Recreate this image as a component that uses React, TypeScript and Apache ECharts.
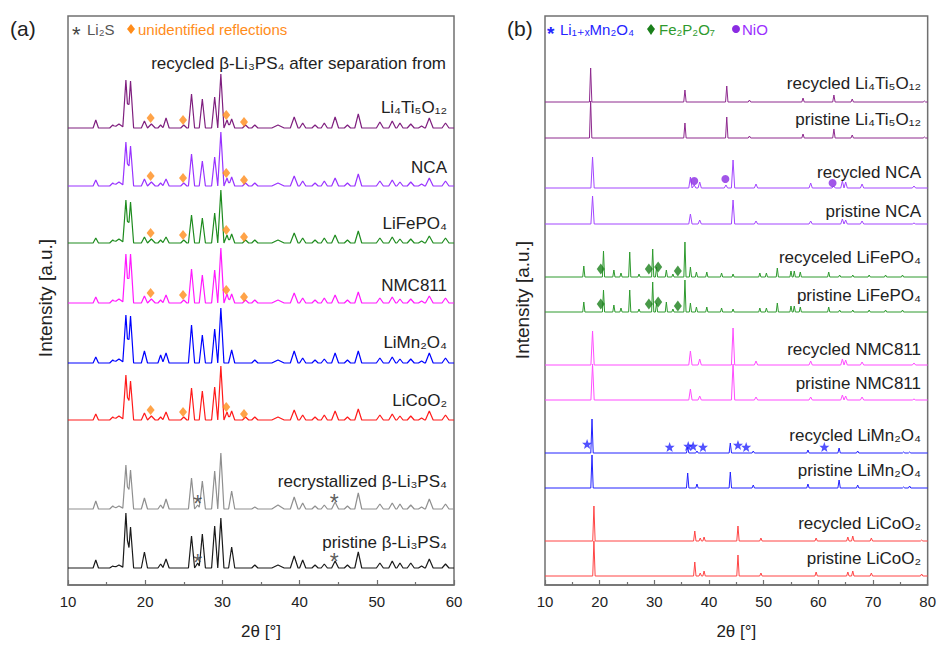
import React, { useEffect, useRef } from "react";
import * as echarts from "echarts";

const FONT = '"Liberation Sans", Arial, "DejaVu Sans", sans-serif';

// ---------- Panel (a): beta-Li3PS4 patterns (peak positions in 2theta, heights in a.u.) ----------
const lpsTheta = [13.6, 15.8, 16.6, 17.5, 18.1, 19.9, 20.8, 22.0, 22.7, 25.0, 26.0, 26.8, 27.4, 29.0, 29.8, 30.6, 31.2, 33.0, 34.2, 37.2, 39.3, 40.4, 42.0, 43.2, 44.6, 46.2, 47.6, 50.4, 52.0, 53.0, 54.4, 55.8, 56.8, 58.9];
const lpsWidth = [0.35, 0.4, 0.7, 0.4, 0.4, 0.4, 0.5, 0.35, 0.4, 0.4, 0.4, 0.35, 0.4, 0.4, 0.4, 0.35, 0.4, 0.4, 0.4, 0.8, 0.5, 0.4, 0.4, 0.4, 0.45, 0.4, 0.45, 0.45, 0.45, 0.4, 0.45, 0.4, 0.5, 0.45];
const hLTO = [8, 3, 4, 48, 47, 7, 4, 3, 10, 3, 34, 0, 29, 31, 54, 8, 9, 3, 3, 3, 11, 5, 3, 5, 11, 3, 14, 6, 7, 5, 4, 2, 10, 5];
const hNCA = [6, 3, 4, 44, 40, 7, 4, 3, 7, 3, 32, 0, 25, 29, 54, 8, 9, 3, 3, 3, 10, 5, 3, 5, 8, 3, 12, 5, 6, 4, 4, 2, 8, 5];
const hLFP = [5, 3, 4, 43, 41, 6, 4, 3, 6, 3, 28, 0, 25, 30, 53, 8, 9, 3, 3, 3, 10, 5, 3, 5, 8, 3, 12, 5, 6, 4, 4, 2, 7, 5];
const hNMC = [6, 3, 4, 49, 49, 7, 4, 3, 8, 3, 34, 0, 28, 33, 55, 9, 9, 3, 3, 3, 10, 5, 3, 5, 8, 3, 11, 5, 6, 4, 4, 2, 7, 5];
const hLMO = [6, 3, 4, 48, 47, 12, 0, 8, 10, 0, 38, 0, 28, 34, 55, 0, 13, 0, 3, 3, 12, 5, 3, 4, 10, 3, 12, 5, 6, 4, 4, 2, 10, 5];
const hLCO = [6, 3, 4, 45, 39, 7, 4, 3, 8, 3, 32, 0, 29, 33, 54, 8, 9, 3, 3, 3, 10, 5, 3, 5, 9, 3, 11, 5, 6, 4, 4, 2, 9, 5];
const hRecryst = [8, 3, 3, 44, 39, 11, 0, 4, 10, 0, 31, 4, 28, 38, 56, 0, 18, 0, 2, 4, 12, 6, 3, 4, 7, 3, 16, 5, 6, 5, 4, 2, 10, 5];
const hPristine = [8, 2, 3, 55, 41, 16, 0, 4, 9, 0, 32, 5, 34, 42, 50, 0, 21, 0, 3, 3, 12, 8, 3, 4, 7, 3, 16, 5, 7, 5, 5, 2, 9, 4];
const leftNames = ["Li₄Ti₅O₁₂", "NCA", "LiFePO₄", "NMC811", "LiMn₂O₄", "LiCoO₂", "recrystallized β-Li₃PS₄", "pristine β-Li₃PS₄"];
const leftHeights = [hLTO, hNCA, hLFP, hNMC, hLMO, hLCO, hRecryst, hPristine];
const leftOffsets = [457, 399, 342, 282, 222, 165, 76, 17];

const unidentifiedTheta = [20.7, 24.9, 30.5, 32.8];
const unidentifiedLift = [10, 8, 13, 6];
const li2sTheta = [26.8, 44.5];
const li2sLift = [11, 12];

// ---------- Panel (b): cathode patterns ----------
const ltoTheta = [18.35, 35.6, 43.25, 47.4, 57.2, 62.85, 66.2, 79.4];
const ltoRec = [34, 12, 16, 2, 4, 7, 3, 1];
const ltoPri = [37, 15, 21, 2, 4, 9, 3, 1];
const ncaTheta = [18.7, 36.6, 37.3, 38.3, 43.1, 44.4, 48.6, 58.6, 62.8, 64.4, 65.0, 68.0, 77.5];
const ncaRec = [31, 11, 3, 6, 3, 28, 4, 5, 2, 7, 6, 4, 2];
const ncaPri = [28, 10, 0, 4, 0, 24, 3, 3, 0, 5, 4, 3, 1];
const lfpTheta = [17.1, 20.7, 22.6, 23.9, 25.5, 27.2, 29.7, 30.4, 32.2, 33.4, 35.6, 36.6, 37.7, 39.6, 42.3, 44.4, 49.3, 50.5, 52.5, 55.0, 55.6, 56.7, 61.9, 63.9, 66.3, 69.3, 72.3, 75.4];
const lfpRec = [11, 26, 7, 4, 25, 3, 28, 10, 7, 3, 35, 10, 5, 5, 4, 3, 4, 4, 9, 6, 6, 5, 5, 2, 2, 2, 2, 2];
const lfpPri = [10, 22, 7, 4, 22, 3, 30, 9, 10, 3, 32, 9, 5, 5, 4, 3, 4, 4, 9, 6, 6, 5, 5, 2, 2, 2, 2, 2];
const nmcTheta = [18.7, 36.6, 38.3, 44.4, 48.6, 58.6, 64.4, 65.0, 68.0, 77.5];
const nmcRec = [34, 14, 6, 37, 4, 4, 6, 5, 3, 2];
const nmcPri = [36, 11, 4, 36, 3, 3, 5, 4, 3, 1];
const lmoTheta = [18.6, 36.1, 37.8, 43.9, 48.1, 58.1, 63.8, 67.2, 75.6, 76.7];
const lmoRec = [34, 6, 2, 10, 2, 3, 5, 2, 1, 1];
const lmoPri = [33, 15, 4, 16, 3, 4, 8, 3, 1, 2];
const lcoTheta = [18.95, 37.4, 38.4, 39.1, 45.3, 49.5, 59.6, 65.4, 66.3, 69.7, 78.9];
const lcoRec = [35, 10, 3, 4, 15, 3, 3, 4, 5, 3, 1];
const lcoPri = [35, 14, 3, 5, 21, 3, 4, 4, 5, 3, 2];

const rightNames = ["recycled Li₄Ti₅O₁₂", "pristine Li₄Ti₅O₁₂", "recycled NCA", "pristine NCA", "recyceled LiFePO₄", "pristine LiFePO₄", "recycled NMC811", "pristine NMC811", "recycled LiMn₂O₄", "pristine LiMn₂O₄", "recycled LiCoO₂", "pristine LiCoO₂"];
const rightThetas = [ltoTheta, ltoTheta, ncaTheta, ncaTheta, lfpTheta, lfpTheta, nmcTheta, nmcTheta, lmoTheta, lmoTheta, lcoTheta, lcoTheta];
const rightHeights = [ltoRec, ltoPri, ncaRec, ncaPri, lfpRec, lfpPri, nmcRec, nmcPri, lmoRec, lmoPri, lcoRec, lcoPri];
const rightOffsets = [483, 447, 397, 361, 308, 273, 220, 185, 132, 97, 44, 9];

const lmoStarTheta = [17.7, 32.8, 36.2, 37.1, 38.9, 45.3, 46.8, 61.1];
const lmoStarLift = [9, 6, 7, 7, 6, 8, 6, 6];
const fe2p2o7Theta = [20.2, 29.0, 30.7, 34.3];
const fe2p2o7Lift = [8, 8, 10, 6];
const nioTheta = [37.3, 43.0, 62.6];
const nioLift = [7, 9, 5];

// ---------- styles ----------
const leftColors = ["#7F1F7F", "#9933FF", "#1E8C1E", "#FF1AFF", "#0000FF", "#FF1A1A", "#8F8F8F", "#1A1A1A"];
const rightColors = ["#8E2A8E", "#8E2A8E", "#A347FF", "#A347FF", "#2E9A2E", "#2E9A2E", "#FF4DFF", "#FF4DFF", "#2222FF", "#2222FF", "#FF4444", "#FF4444"];
const rightWidths = [0.22, 0.22, 0.3, 0.3, 0.2, 0.2, 0.3, 0.3, 0.22, 0.22, 0.22, 0.22];
const leftLabelY = [107, 167, 223, 285, 342, 400, 481, 542];
const rightLabelY = [83, 119, 172, 211, 257, 295, 349, 383, 435, 470, 523, 558];

function pattern(theta: number[], heights: number[], widths: number[] | number, base: number, xMin: number, xMax: number) {
  const peaks = theta
    .map((t, i) => ({ t, h: heights[i], w: Array.isArray(widths) ? widths[i] : widths }))
    .filter((p) => p.h > 0);
  const xs = new Set<number>([xMin, xMax]);
  peaks.forEach((p) => {
    xs.add(+(p.t - p.w).toFixed(3));
    xs.add(p.t);
    xs.add(+(p.t + p.w).toFixed(3));
  });
  const sorted = Array.from(xs).filter((x) => x >= xMin && x <= xMax).sort((a, b) => a - b);
  return sorted.map((x) => [
    x,
    base + peaks.reduce((s, p) => s + Math.max(0, p.h * (1 - Math.abs(x - p.t) / p.w)), 0),
  ]);
}

function markerPoints(theta: number[], lift: number[], base: number) {
  return theta.map((t, i) => [t, base + lift[i]]);
}

function starSymbol() {
  const pts: string[] = [];
  for (let k = 0; k < 10; k++) {
    const r = k % 2 === 0 ? 10 : 4.2;
    const a = -Math.PI / 2 + (k * Math.PI) / 5;
    pts.push(`${(10 + r * Math.cos(a)).toFixed(2)} ${(10 + r * Math.sin(a)).toFixed(2)}`);
  }
  return "path://M" + pts.join(" L") + " Z";
}

export default function App() {
  const ref = useRef<HTMLDivElement>(null);
  useEffect(() => {
    if (!ref.current) return;
    const chart = echarts.init(ref.current, undefined, { renderer: "svg" });
    const axisColor = "#707070";
    const mkX = (grid: number, max: number) => ({
      gridIndex: grid,
      type: "value",
      min: 10,
      max,
      interval: 10,
      axisLine: { show: true, lineStyle: { color: axisColor, width: 1.5 } },
      axisTick: { show: true, inside: true, length: 5, lineStyle: { color: axisColor, width: 1.2 } },
      minorTick: { show: true, splitNumber: 2, length: 3, lineStyle: { color: axisColor, width: 1.2 } },
      axisLabel: { color: "#222", fontSize: 15, margin: 9, fontFamily: FONT },
      splitLine: { show: false },
      name: "2θ [°]",
      nameLocation: "middle",
      nameGap: 38,
      nameTextStyle: { color: "#222", fontSize: 17, fontFamily: FONT },
    });
    const mkY = (grid: number) => ({ gridIndex: grid, type: "value", min: 0, max: 569, show: false });

    const series: any[] = [];
    leftHeights.forEach((h, i) => {
      series.push({
        type: "line",
        name: leftNames[i],
        xAxisIndex: 0,
        yAxisIndex: 0,
        data: pattern(lpsTheta, h, lpsWidth, leftOffsets[i], 10, 60),
        symbol: "none",
        lineStyle: { color: leftColors[i], width: 1.2 },
        silent: true,
      });
    });
    rightHeights.forEach((h, i) => {
      series.push({
        type: "line",
        name: rightNames[i],
        xAxisIndex: 1,
        yAxisIndex: 1,
        data: pattern(rightThetas[i], h, rightWidths[i], rightOffsets[i], 10, 80),
        symbol: "none",
        lineStyle: { color: rightColors[i], width: 1 },
        silent: true,
      });
    });
    // unidentified reflections (orange diamonds)
    series.push({
      type: "scatter",
      xAxisIndex: 0,
      yAxisIndex: 0,
      data: [0, 1, 2, 3, 5].flatMap((i) => markerPoints(unidentifiedTheta, unidentifiedLift, leftOffsets[i])),
      symbol: "diamond",
      symbolSize: [8, 10],
      itemStyle: { color: "#FF8C1A" },
      z: 5,
      silent: true,
    });
    // Li2S asterisks
    series.push({
      type: "scatter",
      xAxisIndex: 0,
      yAxisIndex: 0,
      data: [6, 7].flatMap((i) => markerPoints(li2sTheta, li2sLift, leftOffsets[i])),
      symbol: "circle",
      symbolSize: 1,
      itemStyle: { color: "rgba(0,0,0,0)" },
      label: { show: true, position: "inside", formatter: "*", fontSize: 23, color: "#333", fontFamily: FONT, offset: [0, 6] },
      z: 5,
      silent: true,
    });
    // Li1+xMn2O4 stars
    series.push({
      type: "scatter",
      xAxisIndex: 1,
      yAxisIndex: 1,
      data: markerPoints(lmoStarTheta, lmoStarLift, rightOffsets[8]),
      symbol: starSymbol(),
      symbolSize: 10,
      itemStyle: { color: "#2626FF" },
      z: 5,
      silent: true,
    });
    // Fe2P2O7 diamonds
    series.push({
      type: "scatter",
      xAxisIndex: 1,
      yAxisIndex: 1,
      data: [4, 5].flatMap((i) => markerPoints(fe2p2o7Theta, fe2p2o7Lift, rightOffsets[i])),
      symbol: "diamond",
      symbolSize: [8, 11],
      itemStyle: { color: "#1A7F1A" },
      z: 5,
      silent: true,
    });
    // NiO dots
    series.push({
      type: "scatter",
      xAxisIndex: 1,
      yAxisIndex: 1,
      data: markerPoints(nioTheta, nioLift, rightOffsets[2]),
      symbol: "circle",
      symbolSize: 8,
      itemStyle: { color: "#8A2BE2" },
      z: 5,
      silent: true,
    });

    const txt = (text: string, x: number, y: number, opts: any = {}) => ({
      type: "text",
      x,
      y,
      rotation: opts.rotation || 0,
      z: 10,
      style: {
        text,
        fill: opts.fill || "#222",
        font: `${opts.weight || "normal"} ${opts.size || 17}px ${FONT}`,
        align: opts.align || "right",
        verticalAlign: "middle",
      },
    });

    const graphic: any[] = [
      txt("(a)", 10, 28, { align: "left", size: 21 }),
      txt("(b)", 507, 28, { align: "left", size: 21 }),
      txt("Intensity [a.u.]", 45, 298, { align: "center", size: 19, rotation: Math.PI / 2 }),
      txt("Intensity [a.u.]", 522, 300, { align: "center", size: 19, rotation: Math.PI / 2 }),
      // legend (a)
      txt("*", 72, 34, { align: "left", size: 22, fill: "#444" }),
      txt("Li₂S", 87, 29, { align: "left", size: 15, fill: "#555" }),
      { type: "polygon", z: 10, shape: { points: [[131, 24], [135, 29], [131, 34], [127, 29]] }, style: { fill: "#FF8C1A" } },
      txt("unidentified reflections", 138, 29, { align: "left", size: 15, fill: "#FF8C1A" }),
      // legend (b)
      txt("*", 547, 33, { align: "left", size: 19, weight: "bold", fill: "#2525FF" }),
      txt("Li₁₊ₓMn₂O₄", 560, 29, { align: "left", size: 15, fill: "#2525FF" }),
      { type: "polygon", z: 10, shape: { points: [[651, 24], [655, 29], [651, 35], [647, 29]] }, style: { fill: "#1A7F1A" } },
      txt("Fe₂P₂O₇", 659, 29, { align: "left", size: 15, fill: "#2E9A2E" }),
      { type: "circle", z: 10, shape: { cx: 736, cy: 29, r: 4 }, style: { fill: "#8A2BE2" } },
      txt("NiO", 742, 29, { align: "left", size: 15, fill: "#9B30FF" }),
      txt("recycled β-Li₃PS₄ after separation from", 446, 63, {}),
    ];
    leftNames.forEach((n, i) => graphic.push(txt(n, 447, leftLabelY[i])));
    rightNames.forEach((n, i) => graphic.push(txt(n, 921, rightLabelY[i])));

    chart.setOption({
      animation: false,
      backgroundColor: "#fff",
      textStyle: { fontFamily: FONT },
      grid: [
        { left: 68, top: 16, width: 386, height: 569, show: true, borderColor: axisColor, borderWidth: 1.5, backgroundColor: "transparent" },
        { left: 545, top: 16, width: 383, height: 569, show: true, borderColor: axisColor, borderWidth: 1.5, backgroundColor: "transparent" },
      ],
      xAxis: [mkX(0, 60), mkX(1, 80)],
      yAxis: [mkY(0), mkY(1)],
      series,
      graphic,
    });
    return () => chart.dispose();
  }, []);
  return <div ref={ref} style={{ position: "fixed", left: 0, top: 0, width: 939, height: 648 }} />;
}
